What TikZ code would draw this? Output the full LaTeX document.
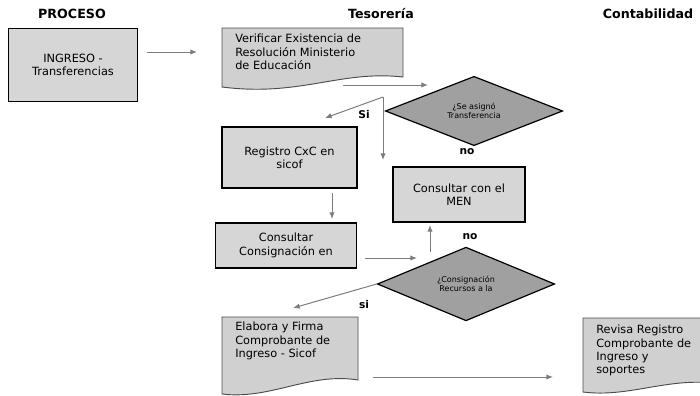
\documentclass[tikz,border=0pt]{standalone}
\usepackage{fontspec}
\setmainfont{DejaVu Sans}
\usetikzlibrary{shapes.geometric}
\usetikzlibrary{arrows.meta}

\definecolor{boxgray}{RGB}{214,214,214}
\definecolor{diagray}{RGB}{160,160,160}
\definecolor{docgray}{RGB}{208,208,208}
\definecolor{linegray}{RGB}{125,125,125}

\tikzset{
  header/.style={font=\fontsize{9.5}{11}\selectfont\bfseries, inner sep=0.75pt},
  procbox/.style={draw=black, line width=1.1pt, fill=boxgray, align=center, font=\fontsize{8.5}{10}\selectfont, inner sep=0.75pt},
  decision/.style={diamond, draw=black, line width=0.9pt, fill=diagray, align=center, font=\fontsize{6}{7}\selectfont, inner sep=0pt},
  docshape/.style={fill=docgray, draw=gray!60!black, line width=0.7pt},
  doctext/.style={anchor=north west, align=left, inner sep=0.75pt, font=\fontsize{8.5}{10}\selectfont},
  flow/.style={draw=linegray, line width=0.75pt, -{Latex[length=5pt,width=4pt]}},
  answer/.style={font=\fontsize{8}{9}\selectfont\bfseries, inner sep=0.75pt},
}

\begin{document}
\begin{tikzpicture}[x=0.75pt,y=0.75pt,yscale=-1,xscale=1]
\useasboundingbox (0,0) rectangle (700,396);
\clip (0,0) rectangle (700,396);

% Headers
\node [header] (proceso) at (72,14) {PROCESO};
\node [header] (tesoreria) at (381,14) {Tesorería};
\node [header] (contabilidad) at (648,14) {Contabilidad};

% Process
\node [procbox, minimum width=97pt, minimum height=55pt] (ingreso) at (73,65) {INGRESO -\\Transferencias};

% Document
\draw [docshape] (222,28) -- (403,28) -- (403,77) .. controls (340,70) and (300,97) .. (222,87) -- cycle;
\node [doctext] (verificar) at (234,33) {Verificar Existencia de\\Resolución Ministerio\\de Educación};

% Decision
\node [decision, minimum width=133pt, minimum height=48pt] (asigno) at (474,111) {¿Se asignó\\Transferencia};

% Process
\node [procbox, minimum width=101pt, minimum height=46pt] (registro) at (289.5,157.5) {Registro CxC en\\sicof};
% Process
\node [procbox, minimum width=99pt, minimum height=41pt] (consultarmen) at (459,194.5) {Consultar con el\\MEN};
% Process
\node [procbox, minimum width=106pt, minimum height=34pt] (consultarcons) at (286,245.5) {Consultar\\Consignación en};

% Decision
\node [decision, minimum width=133pt, minimum height=49pt] (consignacion) at (466,284) {¿Consignación\\Recursos a la};

% Document
\draw [docshape] (222,317) -- (358,317) -- (358,380) .. controls (310,372) and (270,400) .. (222,394) -- cycle;
\node [doctext] (elabora) at (234,321) {Elabora y Firma\\Comprobante de\\Ingreso - Sicof};
% Document
\draw [docshape] (583,318) -- (720,318) -- (720,384) .. controls (670,376) and (630,398) .. (583,392) -- cycle;
\node [doctext] (revisa) at (595,324) {Revisa Registro\\Comprobante de\\Ingreso y\\soportes};

% Connection
\coordinate (ingresoout) at (147,52);
\coordinate (verificarin) at (197,52);
\draw [flow] (ingresoout) -- (verificarin);
% Connection
\coordinate (verificarout) at (343,85);
\coordinate (asignoin) at (428,85);
\draw [flow] (verificarout) -- (asignoin);
% Connection
\coordinate (sijoin) at (383,97);
\coordinate (sileft) at (325,118);
\coordinate (sidown) at (383,160);
\draw [flow] (sijoin) -- (sileft);
\draw [flow] (sijoin) -- (sidown);
% Connection
\coordinate (registroout) at (332,193);
\coordinate (consultarin) at (332,219);
\draw [flow] (registroout) -- (consultarin);
% Connection
\coordinate (consultarout) at (365,258);
\coordinate (consignacionin) at (417,258);
\draw [flow] (consultarout) -- (consignacionin);
% Connection
\coordinate (consignacionup) at (430,252);
\coordinate (menin) at (430,225);
\draw [flow] (consignacionup) -- (menin);
% Connection
\coordinate (elaborain) at (293,308);
\draw [flow] (consignacion.west) -- (elaborain);
% Connection
\coordinate (elaboraout) at (373,377);
\coordinate (revisain) at (553,377);
\draw [flow] (elaboraout) -- (revisain);

% Text Node
\node [answer] (si1) at (364,115) {Si};
\node [answer] (no1) at (467,152) {no};
\node [answer] (no2) at (470,237) {no};
\node [answer] (si2) at (364,305) {si};

\end{tikzpicture}
\end{document}
